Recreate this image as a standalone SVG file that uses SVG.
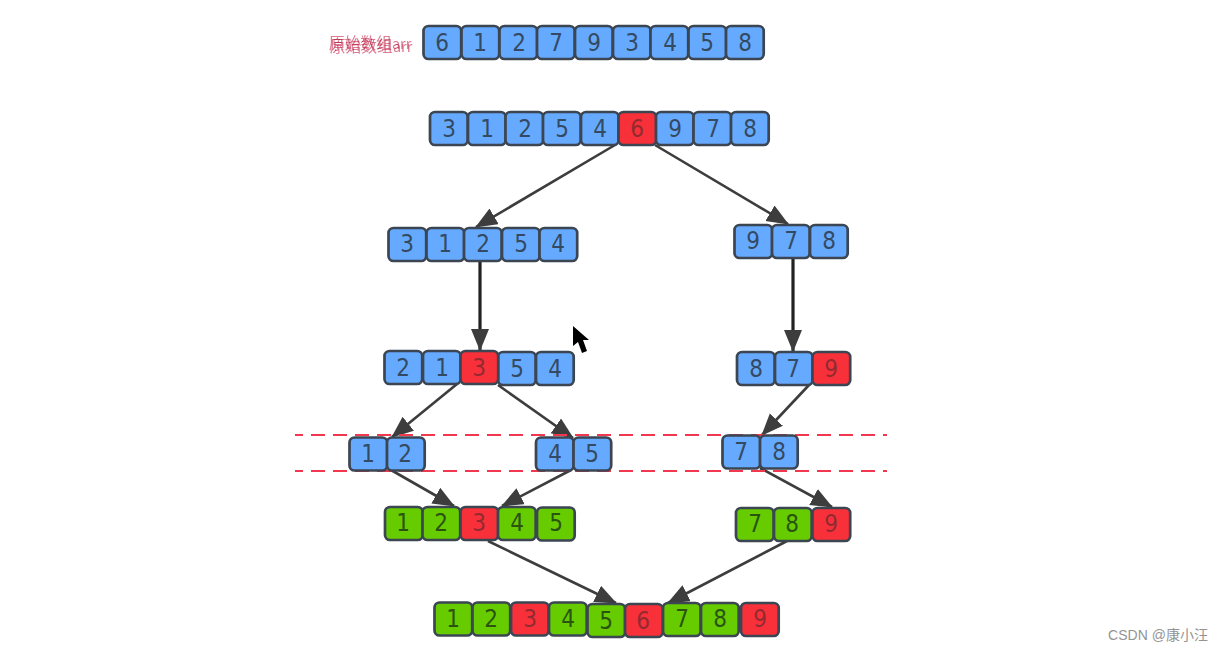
<svg xmlns="http://www.w3.org/2000/svg" width="1223" height="651" viewBox="0 0 1223 651">
<style>
rect{stroke:#3b4652;stroke-width:2.7}
.b{fill:#66aaff}.r{fill:#f8303a}.g{fill:#66cc00}
text{font-family:"DejaVu Sans",sans-serif;font-size:24px;font-stretch:condensed;text-anchor:middle}
.tb{fill:#344a62}.tr{fill:#932a30}.tg{fill:#2a5410}
.lnk{stroke:#3d3d3d;stroke-width:2.6;fill:none;marker-end:url(#ah)}
.thick{stroke:#222;stroke-width:3.2}
.dash{stroke:#f2384e;stroke-width:2.2;stroke-dasharray:14 8;stroke-dashoffset:6;fill:none}
</style>
<defs>
<marker id="ah" markerUnits="userSpaceOnUse" markerWidth="24" markerHeight="20" refX="21" refY="9" orient="auto"><path d="M0 0L22 9L0 18Z" fill="#3d3d3d"/></marker>
<filter id="ghost" x="-5%" y="-20%" width="110%" height="140%"><feOffset in="SourceGraphic" dx="1" dy="3" result="o"/><feBlend in="SourceGraphic" in2="o" mode="multiply"/></filter>
</defs>
<rect x="0" y="0" width="1223" height="651" style="fill:#fff;stroke:none"/>
<g id="connectors">
<path class="lnk" d="M615 145L476 227"/>
<path class="lnk" d="M655 145L788 224"/>
<path class="lnk thick" d="M480 261V350"/>
<path class="lnk thick" d="M793 258V351"/>
<path class="lnk" d="M457 384L392 437"/>
<path class="lnk" d="M498 385L573 438"/>
<path class="lnk" d="M809 385L762 435"/>
<path class="lnk" d="M391 470L454 506"/>
<path class="lnk" d="M571 470L502 506"/>
<path class="lnk" d="M760 468L832 507"/>
<path class="lnk" d="M488 541L616 603"/>
<path class="lnk" d="M787 541L668 603"/>
</g>
<g id="guides">
<path class="dash" d="M295 435H887"/>
<path class="dash" d="M295 471H887"/>
</g>
<g id="label"><text x="370" y="49" filter="url(#ghost)" style="font-family:'Noto Sans CJK SC',sans-serif;font-size:15.800px;font-stretch:normal;fill:#dd7c94">原始数组<tspan style="font-size:14.500px">arr</tspan></text></g>
<g id="row1">
<rect class="b" x="423.500" y="26" width="37.700" height="33" rx="5"/><text class="tb" x="442" y="51">6</text>
<rect class="b" x="461.500" y="26" width="37.700" height="33" rx="5"/><text class="tb" x="480" y="51">1</text>
<rect class="b" x="499.500" y="26" width="37.700" height="33" rx="5"/><text class="tb" x="519" y="51">2</text>
<rect class="b" x="537" y="26" width="37.700" height="33" rx="5"/><text class="tb" x="556" y="51">7</text>
<rect class="b" x="575" y="26" width="37.700" height="33" rx="5"/><text class="tb" x="594" y="51">9</text>
<rect class="b" x="613" y="26" width="37.700" height="33" rx="5"/><text class="tb" x="632" y="51">3</text>
<rect class="b" x="650.500" y="26" width="37.700" height="33" rx="5"/><text class="tb" x="670" y="51">4</text>
<rect class="b" x="688.500" y="26" width="37.700" height="33" rx="5"/><text class="tb" x="707" y="51">5</text>
<rect class="b" x="726" y="26" width="37.700" height="33" rx="5"/><text class="tb" x="745" y="51">8</text>
</g>
<g id="row2">
<rect class="b" x="430" y="112" width="37.700" height="33" rx="5"/><text class="tb" x="449" y="137">3</text>
<rect class="b" x="468" y="112" width="37.700" height="33" rx="5"/><text class="tb" x="487" y="137">1</text>
<rect class="b" x="505.500" y="112" width="37.700" height="33" rx="5"/><text class="tb" x="525" y="137">2</text>
<rect class="b" x="543" y="112" width="37.700" height="33" rx="5"/><text class="tb" x="562" y="137">5</text>
<rect class="b" x="581" y="112" width="37.700" height="33" rx="5"/><text class="tb" x="600" y="137">4</text>
<rect class="r" x="618.500" y="112" width="37.700" height="33" rx="5"/><text class="tr" x="637" y="137">6</text>
<rect class="b" x="656" y="112" width="37.700" height="33" rx="5"/><text class="tb" x="675" y="137">9</text>
<rect class="b" x="693.500" y="112" width="37.700" height="33" rx="5"/><text class="tb" x="713" y="137">7</text>
<rect class="b" x="731" y="112" width="37.700" height="33" rx="5"/><text class="tb" x="750" y="137">8</text>
</g>
<g id="row3-left">
<rect class="b" x="388.500" y="228" width="37.700" height="33" rx="5"/><text class="tb" x="407" y="252">3</text>
<rect class="b" x="426.500" y="228" width="37.700" height="33" rx="5"/><text class="tb" x="445" y="252">1</text>
<rect class="b" x="464" y="228" width="37.700" height="33" rx="5"/><text class="tb" x="483" y="252">2</text>
<rect class="b" x="502" y="228" width="37.700" height="33" rx="5"/><text class="tb" x="521" y="252">5</text>
<rect class="b" x="539.500" y="228" width="37.700" height="33" rx="5"/><text class="tb" x="558" y="252">4</text>
</g>
<g id="row3-right">
<rect class="b" x="734.500" y="225" width="37.700" height="33" rx="5"/><text class="tb" x="753" y="249">9</text>
<rect class="b" x="772" y="225" width="37.700" height="33" rx="5"/><text class="tb" x="791" y="249">7</text>
<rect class="b" x="810" y="225" width="37.700" height="33" rx="5"/><text class="tb" x="829" y="249">8</text>
</g>
<g id="row4-left">
<rect class="b" x="384.500" y="351" width="37.700" height="33" rx="5"/><text class="tb" x="403" y="376">2</text>
<rect class="b" x="423" y="351" width="37.700" height="33" rx="5"/><text class="tb" x="442" y="376">1</text>
<rect class="b" x="498" y="352" width="37.700" height="33" rx="5"/><text class="tb" x="517" y="377">5</text>
<rect class="b" x="536" y="352" width="37.700" height="33" rx="5"/><text class="tb" x="555" y="377">4</text>
<rect class="r" x="460.500" y="351" width="37.700" height="33" rx="5"/><text class="tr" x="479" y="376">3</text>
</g>
<g id="row4-right">
<rect class="b" x="737" y="352" width="37.700" height="33" rx="5"/><text class="tb" x="756" y="377">8</text>
<rect class="b" x="775" y="352" width="37.700" height="33" rx="5"/><text class="tb" x="793" y="377">7</text>
<rect class="r" x="812.500" y="352" width="37.700" height="33" rx="5"/><text class="tr" x="831" y="377">9</text>
</g>
<g id="row5-a">
<rect class="b" x="349.500" y="437.500" width="37.700" height="33" rx="5"/><text class="tb" x="368" y="462">1</text>
<rect class="b" x="387" y="437.500" width="37.700" height="33" rx="5"/><text class="tb" x="405" y="462">2</text>
</g>
<g id="row5-b">
<rect class="b" x="536" y="437.500" width="37.700" height="33" rx="5"/><text class="tb" x="555" y="462">4</text>
<rect class="b" x="573.500" y="437.500" width="37.700" height="33" rx="5"/><text class="tb" x="592" y="462">5</text>
</g>
<g id="row5-c">
<rect class="b" x="722.500" y="435.500" width="37.700" height="33" rx="5"/><text class="tb" x="741" y="460">7</text>
<rect class="b" x="760" y="435.500" width="37.700" height="33" rx="5"/><text class="tb" x="779" y="460">8</text>
</g>
<g id="row6-left">
<rect class="g" x="385" y="507" width="37.700" height="33" rx="5"/><text class="tg" x="403" y="531">1</text>
<rect class="g" x="422.500" y="507" width="37.700" height="33" rx="5"/><text class="tg" x="441" y="531">2</text>
<rect class="r" x="460.500" y="507" width="37.700" height="33" rx="5"/><text class="tr" x="479" y="531">3</text>
<rect class="g" x="498" y="507" width="37.700" height="33" rx="5"/><text class="tg" x="517" y="531">4</text>
<rect class="g" x="537" y="507.500" width="37.700" height="33" rx="5"/><text class="tg" x="556" y="531">5</text>
</g>
<g id="row6-right">
<rect class="g" x="736" y="508" width="37.700" height="33" rx="5"/><text class="tg" x="755" y="532">7</text>
<rect class="g" x="774" y="508" width="37.700" height="33" rx="5"/><text class="tg" x="792" y="532">8</text>
<rect class="r" x="812.500" y="508" width="37.700" height="33" rx="5"/><text class="tr" x="831" y="532">9</text>
</g>
<g id="row7">
<rect class="g" x="434.500" y="602.500" width="37.700" height="33" rx="5"/><text class="tg" x="453" y="627">1</text>
<rect class="g" x="472.500" y="602.500" width="37.700" height="33" rx="5"/><text class="tg" x="491" y="627">2</text>
<rect class="r" x="511" y="602.500" width="37.700" height="33" rx="5"/><text class="tr" x="530" y="627">3</text>
<rect class="g" x="549" y="602.500" width="37.700" height="33" rx="5"/><text class="tg" x="568" y="627">4</text>
<rect class="g" x="587.500" y="604" width="37.700" height="33" rx="5"/><text class="tg" x="606" y="629">5</text>
<rect class="g" x="663" y="603" width="37.700" height="33" rx="5"/><text class="tg" x="682" y="627">7</text>
<rect class="g" x="701" y="603" width="37.700" height="33" rx="5"/><text class="tg" x="720" y="627">8</text>
<rect class="r" x="741" y="603" width="37.700" height="33" rx="5"/><text class="tr" x="760" y="627">9</text>
<rect class="r" x="625" y="604" width="37.700" height="33" rx="5"/><text class="tr" x="643" y="629">6</text>
</g>
<polygon id="cursor" points="573,326 573,346 578,342 582,353 587,351 583,340 589,340" fill="#000"/>
<text id="watermark" x="1158" y="640" style="font-family:'Liberation Sans','Noto Sans CJK SC',sans-serif;font-size:14px;font-stretch:normal;fill:#949494">CSDN @康小汪</text>
</svg>
